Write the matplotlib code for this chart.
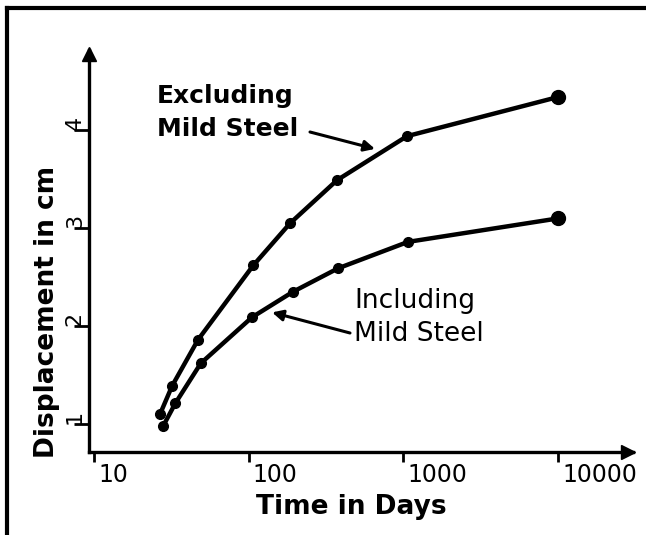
import matplotlib

matplotlib.use("Agg")

import matplotlib.pyplot as plt
from matplotlib.lines import Line2D
from matplotlib.transforms import ScaledTranslation

# values (time in days, displacement in cm)
DAYS_EXCL = [26.7, 32, 47, 107, 185, 372, 1055, 10000]
DISP_EXCL = [1.10, 1.39, 1.86, 2.62, 3.05, 3.49, 3.94, 4.34]
DAYS_INCL = [28, 33.5, 49, 105, 193, 378, 1070, 10000]
DISP_INCL = [0.98, 1.21, 1.62, 2.09, 2.35, 2.59, 2.86, 3.10]

X_TICKS = [10, 100, 1000, 10000]
X_TICK_LABELS = ["10", "100", "1000", "10000"]
Y_TICKS = [1, 2, 3, 4]
Y_TICK_LABELS = ["1", "2", "3", "4"]

W, H = 646, 535


def px(x, y):
    # image pixel (top-left origin) -> figure fraction
    return x / W, 1 - y / H


def draw_curve(ax, days, disp):
    ax.plot(days, disp, color="black", lw=3.2, marker="o", ms=7,
            solid_capstyle="round", zorder=3)
    ax.plot(days[-1:], disp[-1:], "o", color="black", ms=10, zorder=4)


def main():
    plt.rcParams["font.family"] = ["DejaVu Sans"]
    fig = plt.figure(figsize=(W / 100, H / 100), dpi=100)
    ax = fig.add_axes([89 / W, 1 - 452 / H, (633 - 89) / W, (452 - 50) / H])

    draw_curve(ax, DAYS_EXCL, DISP_EXCL)
    draw_curve(ax, DAYS_INCL, DISP_INCL)

    ax.set_xscale("log")
    ax.set_xlim(9.28, 30480)
    ax.set_ylim(0.714, 4.82)

    for side in ("top", "right"):
        ax.spines[side].set_visible(False)
    for side in ("left", "bottom"):
        ax.spines[side].set_linewidth(2.4)

    ax.set_xticks(X_TICKS)
    ax.set_xticklabels(X_TICK_LABELS, fontsize=17, ha="left")
    ax.xaxis.set_minor_locator(plt.NullLocator())
    ax.tick_params(axis="x", direction="out", length=7, width=2, pad=1)
    shift = ScaledTranslation(4 / 100, 0, fig.dpi_scale_trans)
    for lbl in ax.get_xticklabels():
        lbl.set_transform(lbl.get_transform() + shift)

    ax.set_yticks(Y_TICKS)
    ax.set_yticklabels(Y_TICK_LABELS, fontsize=16, rotation=90, va="bottom")
    ax.tick_params(axis="y", direction="out", length=11, width=2, pad=-8)

    # axis arrowheads
    ax.plot(0.99, 0, ">", color="black", ms=10, transform=ax.transAxes, clip_on=False)
    ax.plot(0, 0.99, "^", color="black", ms=10, transform=ax.transAxes, clip_on=False)

    ax.set_xlabel("Time in Days", fontsize=19, fontweight="bold")
    ax.xaxis.label.set_va("center")
    ax.xaxis.set_label_coords((351 - 89) / 544, (452 - 507) / 402)
    ax.set_ylabel("Displacement in cm", fontsize=19, fontweight="bold")
    ax.yaxis.label.set_va("center")
    ax.yaxis.set_label_coords((47 - 89) / 544, (452 - 312) / 402)

    fig.text(*px(157, 84), "Excluding\nMild Steel", fontsize=18, fontweight="bold",
             ha="left", va="top", linespacing=1.45)
    ax.annotate("", xy=(655, 3.81), xycoords="data",
                xytext=px(310, 132), textcoords="figure fraction",
                arrowprops=dict(arrowstyle="-|>", color="black", lw=2.2,
                                mutation_scale=16, shrinkA=0, shrinkB=0))

    fig.text(*px(354, 288), "Including\nMild Steel", fontsize=19,
             ha="left", va="top", linespacing=1.35)
    ax.annotate("", xy=(141.6, 2.14), xycoords="data",
                xytext=px(350, 333), textcoords="figure fraction",
                arrowprops=dict(arrowstyle="-|>", color="black", lw=2.2,
                                mutation_scale=16, shrinkA=0, shrinkB=0))

    # border of the scanned page
    fig.add_artist(Line2D([7 / W, 1], [1 - 8 / H, 1 - 8 / H], color="black", lw=3))
    fig.add_artist(Line2D([7 / W, 7 / W], [0, 1 - 8 / H], color="black", lw=3))

    fig.savefig("out.png", dpi=100)
    plt.close(fig)


if __name__ == "__main__":
    main()
